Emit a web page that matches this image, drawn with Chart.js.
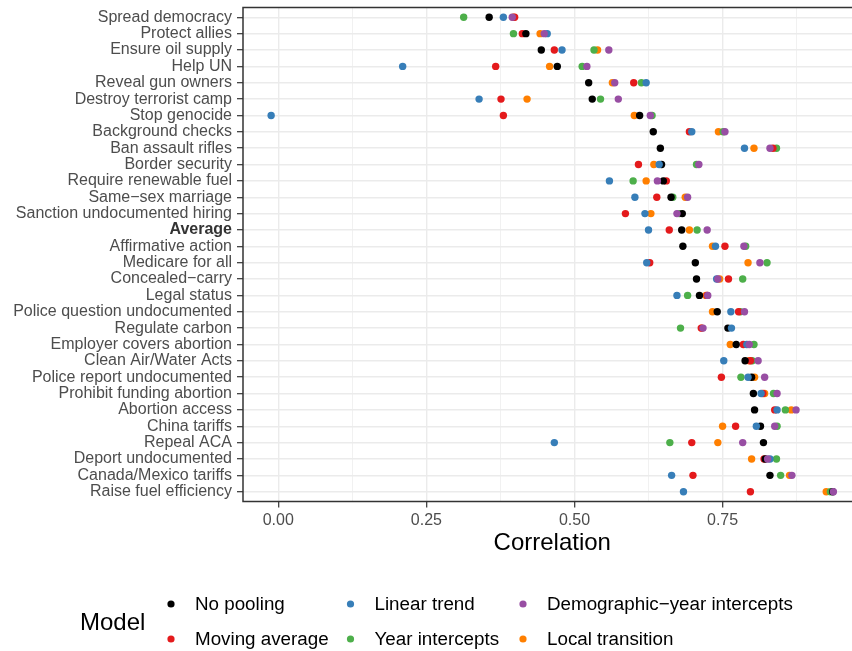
<!DOCTYPE html>
<html>
<head>
<meta charset="utf-8">
<title>Correlation by model</title>
<script src="https://cdn.jsdelivr.net/npm/chart.js@4.4.1/dist/chart.umd.min.js"></script>
<style>
  html, body { margin:0; padding:0; background:#fff; overflow:hidden; }
  #wrap { width:852px; height:651px; overflow:hidden; }
</style>
</head>
<body>
<div id="wrap"><canvas id="chart" width="872" height="651"></canvas></div>
<script>
// Questions, top to bottom
const categories = [
  "Spread democracy", "Protect allies", "Ensure oil supply", "Help UN",
  "Reveal gun owners", "Destroy terrorist camp", "Stop genocide", "Background checks",
  "Ban assault rifles", "Border security", "Require renewable fuel", "Same\u2212sex marriage",
  "Sanction undocumented hiring", "Average", "Affirmative action", "Medicare for all",
  "Concealed\u2212carry", "Legal status", "Police question undocumented", "Regulate carbon",
  "Employer covers abortion", "Clean Air/Water Acts", "Police report undocumented",
  "Prohibit funding abortion", "Abortion access", "China tariffs", "Repeal ACA",
  "Deport undocumented", "Canada/Mexico tariffs", "Raise fuel efficiency"
];

const noPooling = [0.356, 0.418, 0.444, 0.471, 0.524, 0.530, 0.610, 0.633, 0.645, 0.647,
  0.650, 0.663, 0.682, 0.681, 0.683, 0.704, 0.706, 0.711, 0.741, 0.759,
  0.773, 0.788, 0.799, 0.802, 0.804, 0.814, 0.819, 0.822, 0.830, 0.936];
const movingAverage = [0.399, 0.412, 0.466, 0.367, 0.600, 0.376, 0.380, 0.694, 0.835, 0.608,
  0.655, 0.639, 0.586, 0.660, 0.754, 0.627, 0.760, 0.724, 0.777, 0.714,
  0.785, 0.797, 0.748, 0.818, 0.838, 0.772, 0.698, 0.820, 0.700, 0.797];
const linearTrend = [0.380, 0.454, 0.479, 0.210, 0.621, 0.339, -0.012, 0.698, 0.787, 0.643,
  0.559, 0.602, 0.619, 0.625, 0.738, 0.622, 0.740, 0.673, 0.764, 0.765,
  0.791, 0.752, 0.793, 0.815, 0.842, 0.807, 0.466, 0.830, 0.664, 0.684];
const yearIntercepts = [0.313, 0.397, 0.533, 0.513, 0.613, 0.544, 0.631, 0.751, 0.841, 0.706,
  0.599, 0.666, 0.677, 0.707, 0.789, 0.825, 0.784, 0.691, 0.780, 0.679,
  0.803, 0.800, 0.781, 0.836, 0.856, 0.842, 0.661, 0.841, 0.848, 0.932];
const demographicYear = [0.395, 0.449, 0.558, 0.521, 0.568, 0.574, 0.628, 0.754, 0.830, 0.710,
  0.640, 0.691, 0.673, 0.724, 0.786, 0.813, 0.742, 0.725, 0.787, 0.717,
  0.795, 0.810, 0.821, 0.842, 0.874, 0.838, 0.784, 0.826, 0.867, 0.937];
const localTransition = [0.397, 0.442, 0.539, 0.458, 0.564, 0.420, 0.601, 0.743, 0.803, 0.634,
  0.621, 0.687, 0.629, 0.694, 0.733, 0.793, 0.745, 0.722, 0.733, 0.715,
  0.763, 0.795, 0.804, 0.821, 0.866, 0.750, 0.742, 0.799, 0.863, 0.925];

const xTicks = [0, 0.125, 0.25, 0.375, 0.5, 0.625, 0.75, 0.875];

// legend order (column-wise); drawOrder: lower = drawn on top
const models = [
  { name: "No pooling",                   values: noPooling,       color: "#000000", drawOrder: 2 },
  { name: "Moving average",               values: movingAverage,   color: "#E41A1C", drawOrder: 3 },
  { name: "Linear trend",                 values: linearTrend,     color: "#377EB8", drawOrder: 1 },
  { name: "Year intercepts",              values: yearIntercepts,  color: "#4DAF4A", drawOrder: 4 },
  { name: "Demographic\u2212year intercepts", values: demographicYear, color: "#984EA3", drawOrder: 0 },
  { name: "Local transition",             values: localTransition, color: "#FF7F00", drawOrder: 5 }
];

const FONT = '"Liberation Sans", Arial, Helvetica, sans-serif';
Chart.defaults.font.family = FONT;

// panel border + bottom legend
const frameAndKey = {
  id: "frameAndKey",
  afterDatasetsDraw(chart) {
    const { ctx, chartArea: a } = chart;
    ctx.save();
    ctx.strokeStyle = "#333333";
    ctx.lineWidth = 1.5;
    ctx.strokeRect(a.left, a.top, a.right - a.left, a.bottom - a.top);
    ctx.restore();
  },
  afterDraw(chart) {
    const ctx = chart.ctx;
    const colX = [171, 350.5, 523];
    const rowY = [605, 640];
    ctx.save();
    ctx.textBaseline = "middle";
    ctx.textAlign = "left";
    ctx.fillStyle = "#000";
    ctx.font = "24px " + FONT;
    ctx.fillText("Model", 80, 623);
    ctx.font = "18.8px " + FONT;
    models.forEach((m, i) => {
      const x = colX[Math.floor(i / 2)];
      const y = rowY[i % 2];
      ctx.fillStyle = m.color;
      ctx.beginPath();
      ctx.arc(x, y - 1, 3.6, 0, Math.PI * 2);
      ctx.fill();
      ctx.fillStyle = "#000";
      ctx.fillText(m.name, x + 24, y);
    });
    ctx.restore();
  }
};

const isMajor = v => Math.abs(v / 0.25 - Math.round(v / 0.25)) < 1e-6;
const tickMajor = c => !!(c.tick && isMajor(c.tick.value));
const isAverage = c => !!(c.tick && categories[c.tick.value] === "Average");

new Chart(document.getElementById("chart"), {
  type: "scatter",
  data: {
    datasets: models.map(m => ({
      label: m.name,
      data: m.values.map((v, i) => ({ x: v, y: i })),
      backgroundColor: m.color,
      borderWidth: 0,
      pointRadius: 3.7,
      order: m.drawOrder
    }))
  },
  options: {
    responsive: false,
    animation: false,
    events: [],
    layout: { padding: { left: 0, right: 10.5, top: 7.5, bottom: 89.5 } },
    plugins: { legend: { display: false }, tooltip: { enabled: false } },
    scales: {
      x: {
        type: "linear",
        min: -0.0595,
        max: 0.9845,
        afterBuildTicks: s => { s.ticks = xTicks.map(v => ({ value: v })); },
        afterFit: s => { s.height = 60; s.paddingLeft = 0; s.paddingRight = 0; },
        border: { display: false },
        grid: {
          color: "#ebebeb",
          lineWidth: c => tickMajor(c) ? 1.4 : 0.7,
          drawTicks: true,
          tickLength: 6,
          tickWidth: 1.2,
          tickColor: c => tickMajor(c) ? "#333333" : "rgba(0,0,0,0)"
        },
        ticks: {
          autoSkip: false,
          maxRotation: 0,
          padding: 3,
          color: "#4d4d4d",
          font: { size: 16 },
          callback: v => isMajor(v) ? v.toFixed(2) : ""
        },
        title: {
          display: true,
          text: "Correlation",
          color: "#000",
          font: { size: 24 },
          padding: { top: 0, bottom: 4 }
        }
      },
      y: {
        type: "linear",
        reverse: true,
        min: -0.6,
        max: categories.length - 1 + 0.6,
        afterBuildTicks: s => { s.ticks = categories.map((_, i) => ({ value: i })); },
        afterFit: s => { s.width = 243; s.paddingTop = 0; s.paddingBottom = 0; },
        border: { display: false },
        grid: {
          color: "#ebebeb",
          lineWidth: 1.4,
          drawTicks: true,
          tickLength: 6,
          tickWidth: 1.2,
          tickColor: "#333333"
        },
        ticks: {
          autoSkip: false,
          padding: 5,
          color: c => isAverage(c) ? "#333333" : "#4d4d4d",
          font: c => ({ size: 16, weight: isAverage(c) ? "bold" : "normal" }),
          callback: v => categories[v]
        }
      }
    }
  },
  plugins: [frameAndKey]
});
</script>
</body>
</html>
